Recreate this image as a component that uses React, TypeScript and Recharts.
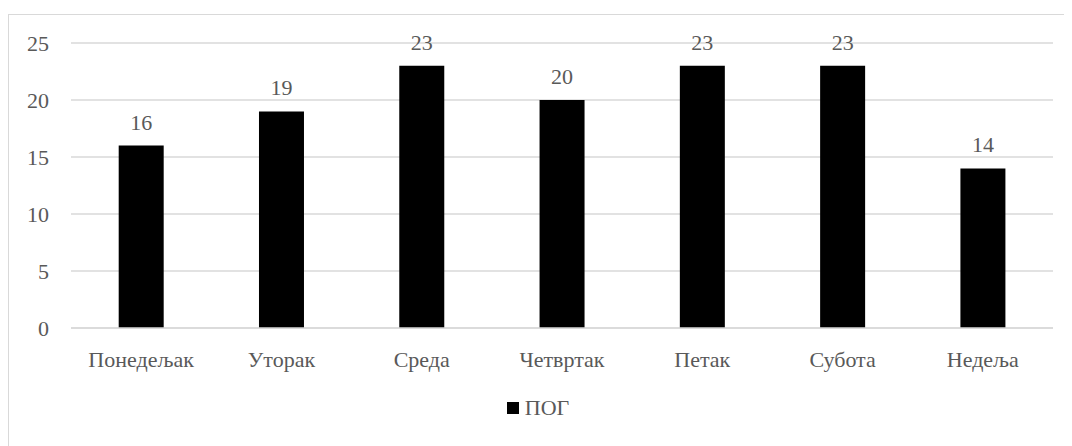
import React from "react";
import { BarChart, Bar, XAxis, YAxis, CartesianGrid, Legend, LabelList } from "recharts";

const days = ["Понедељак", "Уторак", "Среда", "Четвртак", "Петак", "Субота", "Недеља"];
const pogValues = [16, 19, 23, 20, 23, 23, 14];
const yTicks = [0, 5, 10, 15, 20, 25];
const seriesName = "ПОГ";

const data = days.map((d, i) => ({ day: d, pog: pogValues[i] }));

const FONT = '"Liberation Serif", "Times New Roman", Times, serif';
const TEXT = "#595959";

const renderLegend = (props: any) => {
  const payload = props.payload || [];
  return (
    <div
      style={{
        display: "flex",
        justifyContent: "center",
        alignItems: "center",
        paddingLeft: 14,
        height: 24,
      }}
    >
      {payload.map((p: any) => (
        <div key={p.value} style={{ display: "flex", alignItems: "center" }}>
          <span
            style={{
              display: "inline-block",
              width: 12,
              height: 12,
              background: p.color,
              marginRight: 6,
            }}
          />
          <span style={{ color: TEXT, fontSize: 22, fontFamily: FONT, lineHeight: "24px" }}>
            {p.value}
          </span>
        </div>
      ))}
    </div>
  );
};

export default function App() {
  return (
    <div
      style={{
        marginTop: 6,
        width: 1062,
        height: 440,
        border: "1px solid #d9d9d9",
        background: "#fff",
        fontFamily: FONT,
      }}
    >
      <BarChart
        width={1062}
        height={438}
        data={data}
        margin={{ top: 28, right: 18, left: 0, bottom: 33 }}
        barCategoryGap="34%"
        style={{ fontFamily: FONT }}
      >
        <CartesianGrid vertical={false} stroke="#d9d9d9" strokeWidth={1.3} />
        <XAxis
          dataKey="day"
          axisLine={{ stroke: "#d9d9d9", strokeWidth: 1.3 }}
          tickLine={false}
          tickSize={0}
          tickMargin={23}
          height={68}
          tick={{ fill: TEXT, fontSize: 22, fontFamily: FONT }}
          interval={0}
        />
        <YAxis
          domain={[0, 25]}
          ticks={yTicks}
          axisLine={false}
          tickLine={false}
          tickSize={0}
          tickMargin={22}
          width={62}
          tick={{ fill: TEXT, fontSize: 22, fontFamily: FONT }}
        />
        <Legend verticalAlign="bottom" align="center" content={renderLegend} />
        <Bar dataKey="pog" name={seriesName} fill="#000000" isAnimationActive={false}>
          <LabelList
            dataKey="pog"
            position="top"
            offset={16}
            style={{ fill: TEXT, fontSize: 22, fontFamily: FONT }}
          />
        </Bar>
      </BarChart>
    </div>
  );
}
